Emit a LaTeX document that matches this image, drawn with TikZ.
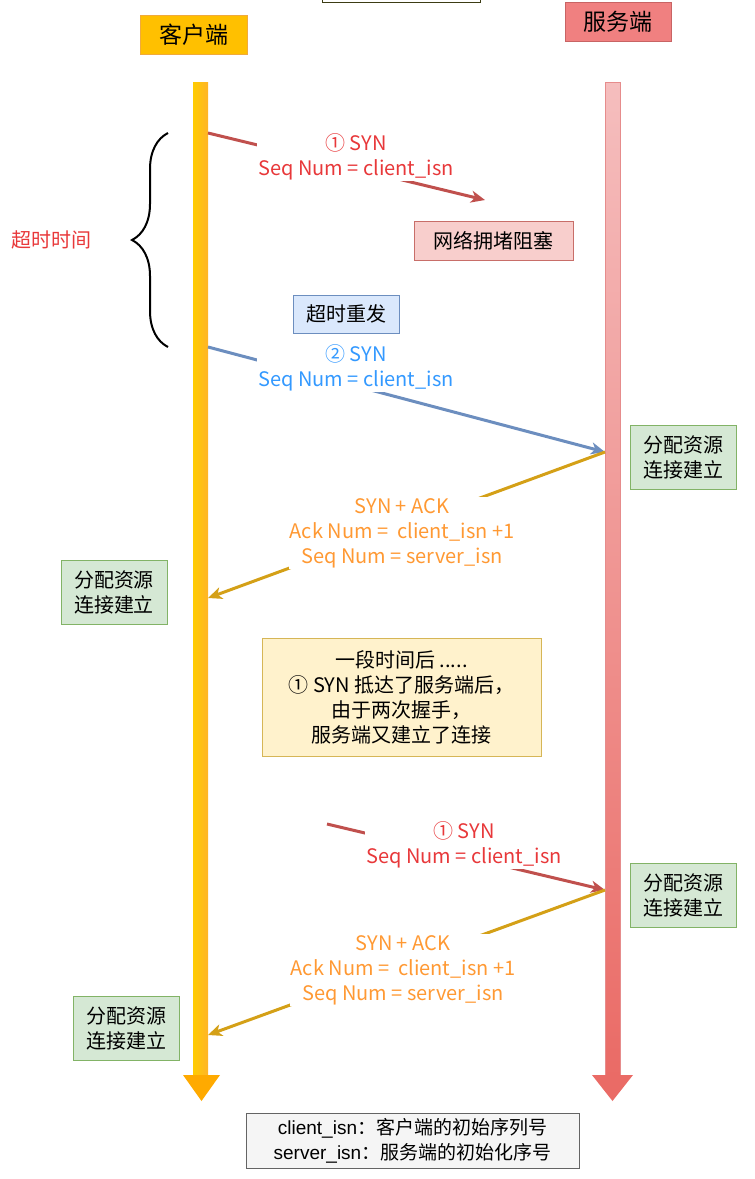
\documentclass[tikz,border=0pt]{standalone}
\usepackage{fontspec}
\setmainfont{Noto Sans CJK SC}
\newfontfamily\legfont{Liberation Sans}
\newfontfamily\cjkfont{Noto Sans CJK SC}
\usetikzlibrary{arrows.meta,decorations.pathreplacing}
\definecolor{cred}{HTML}{C0504D}
\definecolor{tred}{HTML}{E8383A}
\definecolor{cblue}{HTML}{6C8EBF}
\definecolor{tblue}{HTML}{3399FF}
\definecolor{cgold}{HTML}{D4A017}
\definecolor{torange}{HTML}{FF9933}
\definecolor{gfill}{HTML}{D5E8D4}
\definecolor{gdraw}{HTML}{82B366}
\definecolor{ofill}{HTML}{FFC000}
\definecolor{odraw}{HTML}{F0AA3C}
\definecolor{rfill}{HTML}{F08080}
\definecolor{rdraw}{HTML}{C86464}
\definecolor{cltop}{HTML}{FFCC00}
\definecolor{clbot}{HTML}{FFB428}
\definecolor{clhead}{HTML}{FFAA00}
\definecolor{svtop}{HTML}{F5BEBE}
\definecolor{svbot}{HTML}{EA6B66}
\definecolor{svline}{HTML}{E68C8C}
\definecolor{pfill}{HTML}{F8CECC}
\definecolor{pdraw}{HTML}{C86E69}
\definecolor{bfill}{HTML}{DAE8FC}
\definecolor{yfill}{HTML}{FFF2CC}
\definecolor{ydraw}{HTML}{D6B656}
\definecolor{lfill}{HTML}{F5F5F5}
\definecolor{ldraw}{HTML}{646464}
\definecolor{tdraw}{HTML}{3C3C14}
\tikzset{
  lbl/.style={font=\fontsize{20}{25}\selectfont, align=center, inner sep=1pt},
  box/.style={draw, line width=1pt, minimum height=38pt, inner sep=3pt, font=\fontsize{20}{25}\selectfont, align=center},
  gbox/.style={box, draw=gdraw, fill=gfill, minimum width=106pt, minimum height=64pt},
  msg/.style={line width=3pt, -{Stealth[length=14pt,width=12pt,inset=4pt]}},
}
\begin{document}
\begin{tikzpicture}[x=1pt,y=-1pt]
\useasboundingbox (0,0) rectangle (755,1179);
\draw[line width=1pt, draw=tdraw] (322,-10) rectangle (480,2);
\node[box, fill=ofill, draw=odraw, minimum width=107pt, minimum height=39pt, font=\fontsize{23}{26}\selectfont] (cl) at (193.5,34.5) {客户端};
\node[box, fill=rfill, draw=rdraw, minimum width=106pt, minimum height=39pt, font=\fontsize{23}{26}\selectfont] (sv) at (618,21.5) {服务端};
\fill[left color=cltop, right color=clbot] (193,82) rectangle (208,1077);
\fill[clhead] (183,1075) -- (220,1075) -- (201.5,1101) -- cycle;
\fill[top color=svtop, bottom color=svbot] (605,82) rectangle (620,1077);
\draw[svline, line width=.6pt] (605,82) rectangle (620,1077);
\fill[svbot] (592,1075) -- (633,1075) -- (612.5,1101) -- cycle;
\coordinate (c1) at (208,133);
\coordinate (m1) at (485,200);
\coordinate (c2) at (208,347);
\coordinate (s2) at (605,452);
\coordinate (c3) at (208,598);
\coordinate (m4) at (327,824);
\coordinate (s4) at (605,890);
\coordinate (c5) at (208,1035);
\draw[line width=2pt, decorate, decoration={brace, amplitude=36pt}] (168,347) -- (168,133);
\node[lbl, text=tred] (tt) at (52,240) {超时时间};
\draw[msg, cred] (c1) -- (m1);
\draw[msg, cblue] (c2) -- (s2);
\draw[msg, cgold] (s2) -- (c3);
\draw[msg, cred] (m4) -- (s4);
\draw[msg, cgold] (s4) -- (c5);
\node[lbl, text=tred, fill=white] (t1) at (356,157) {① SYN\\Seq Num = client\_isn};
\node[lbl, text=tblue, fill=white] (t2) at (356,368) {② SYN\\Seq Num = client\_isn};
\node[lbl, text=torange, fill=white] (t3) at (402,533) {SYN + ACK\\Ack Num =\ \ client\_isn +1\\Seq Num = server\_isn};
\node[lbl, text=tred, fill=white] (t4) at (464,845) {① SYN\\Seq Num = client\_isn};
\node[lbl, text=torange, fill=white] (t5) at (403,970) {SYN + ACK\\Ack Num =\ \ client\_isn +1\\Seq Num = server\_isn};
\node[box, fill=pfill, draw=pdraw, minimum width=159pt, minimum height=39pt] (cong) at (493.5,240.5) {网络拥堵阻塞};
\node[box, fill=bfill, draw=cblue, minimum width=106pt] (rt) at (346,314) {超时重发};
\node[gbox] (g1) at (683.5,457.5) {分配资源\\连接建立};
\node[gbox] (g2) at (114,592) {分配资源\\连接建立};
\node[gbox] (g3) at (683.5,895) {分配资源\\连接建立};
\node[gbox] (g4) at (126,1028.5) {分配资源\\连接建立};
\node[box, fill=yfill, draw=ydraw, minimum width=279pt, minimum height=118pt] (note) at (401.5,697) {一段时间后 .....\\① SYN 抵达了服务端后，\\由于两次握手，\\服务端又建立了连接};
\node[box, fill=lfill, draw=ldraw, minimum width=333pt, minimum height=55pt, font=\legfont\fontsize{19}{25}\selectfont] (leg) at (412.5,1140.5) {client\_isn{\cjkfont ：}{\cjkfont 客户端的初始序列号}\\server\_isn{\cjkfont ：}{\cjkfont 服务端的初始化序号}};
\end{tikzpicture}
\end{document}
